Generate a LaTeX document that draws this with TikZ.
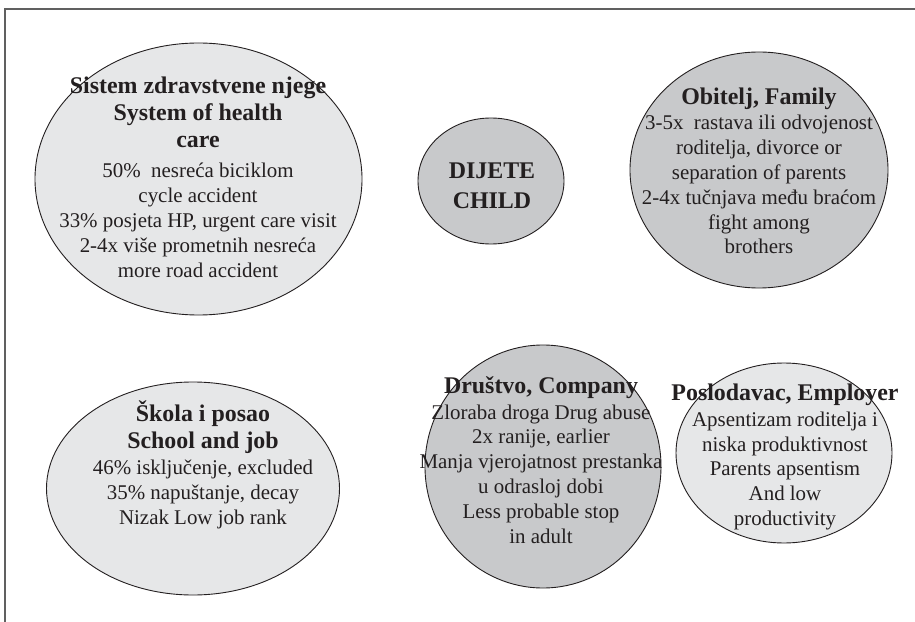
\documentclass[tikz,border=0pt]{standalone}
\usepackage{fontspec}
\setmainfont{Liberation Serif}
\usetikzlibrary{shapes.geometric}
\definecolor{lightfill}{HTML}{E6E7E8}
\definecolor{darkfill}{HTML}{C8C9CB}
\definecolor{ink}{HTML}{231F20}
\definecolor{framegray}{HTML}{606060}
\newcommand{\ttl}[1]{{\fontsize{24}{25}\selectfont\bfseries #1}}
\tikzset{
  blob/.style={ellipse, draw=ink, line width=0.9bp, inner sep=0pt},
  lightblob/.style={blob, fill=lightfill},
  darkblob/.style={blob, fill=darkfill},
  label/.style={align=center, text=ink, inner sep=0pt,
    font=\fontsize{21}{25}\selectfont},
}
\begin{document}
\begin{tikzpicture}[x=1bp,y=-1bp]
\useasboundingbox (0,0) rectangle (915,622);
\fill[white] (0,0) rectangle (915,622);
\draw[framegray, line width=1.5bp] (5,622) -- (5,9) -- (915,9);

% ellipses
\node[lightblob, minimum width=327bp, minimum height=272bp] (health) at (198.5,179) {};
\node[darkblob, minimum width=146bp, minimum height=126bp] (child) at (491,181) {};
\node[darkblob, minimum width=258bp, minimum height=236bp] (family) at (759,170) {};
\node[lightblob, minimum width=293bp, minimum height=213bp] (school) at (193,488.5) {};
\node[darkblob, minimum width=236bp, minimum height=243bp] (company) at (543,466.5) {};
\node[lightblob, minimum width=216bp, minimum height=180bp] (employer) at (784,453) {};

% texts
\node[label] (healthtxt) at (198,177) {\ttl{Sistem zdravstvene njege}\\[3bp]
  \ttl{System of health}\\[2bp] \ttl{care}\\[5bp]
  50\%\ \ nesreća biciklom\\ cycle accident\\
  33\% posjeta HP, urgent care visit\\
  2-4x više prometnih nesreća\\ more road accident};
\node[label] (childtxt) at (492,186) {\ttl{DIJETE}\\[5bp] \ttl{CHILD}};
\node[label] (familytxt) at (759,171) {\ttl{Obitelj, Family}\\
  3-5x\ \ rastava ili odvojenost\\ roditelja, divorce or\\
  separation of parents\\ 2-4x tučnjava među braćom\\
  fight among\\ brothers};
\node[label] (schooltxt) at (203,465) {\ttl{Škola i posao}\\[2bp]
  \ttl{School and job}\\[1bp] 46\% isključenje, excluded\\
  35\% napuštanje, decay\\ Nizak Low job rank};
\node[label] (companytxt) at (541,460) {\ttl{Društvo, Company}\\[1bp]
  Zloraba droga Drug abuse\\ 2x ranije, earlier\\
  Manja vjerojatnost prestanka\\ u odrasloj dobi\\
  Less probable stop\\ in adult};
\node[label] (employertxt) at (785,457) {\ttl{Poslodavac, Employer}\\[1bp]
  Apsentizam roditelja i\\ niska produktivnost\\
  Parents apsentism\\ And low\\ productivity};
\end{tikzpicture}
\end{document}
